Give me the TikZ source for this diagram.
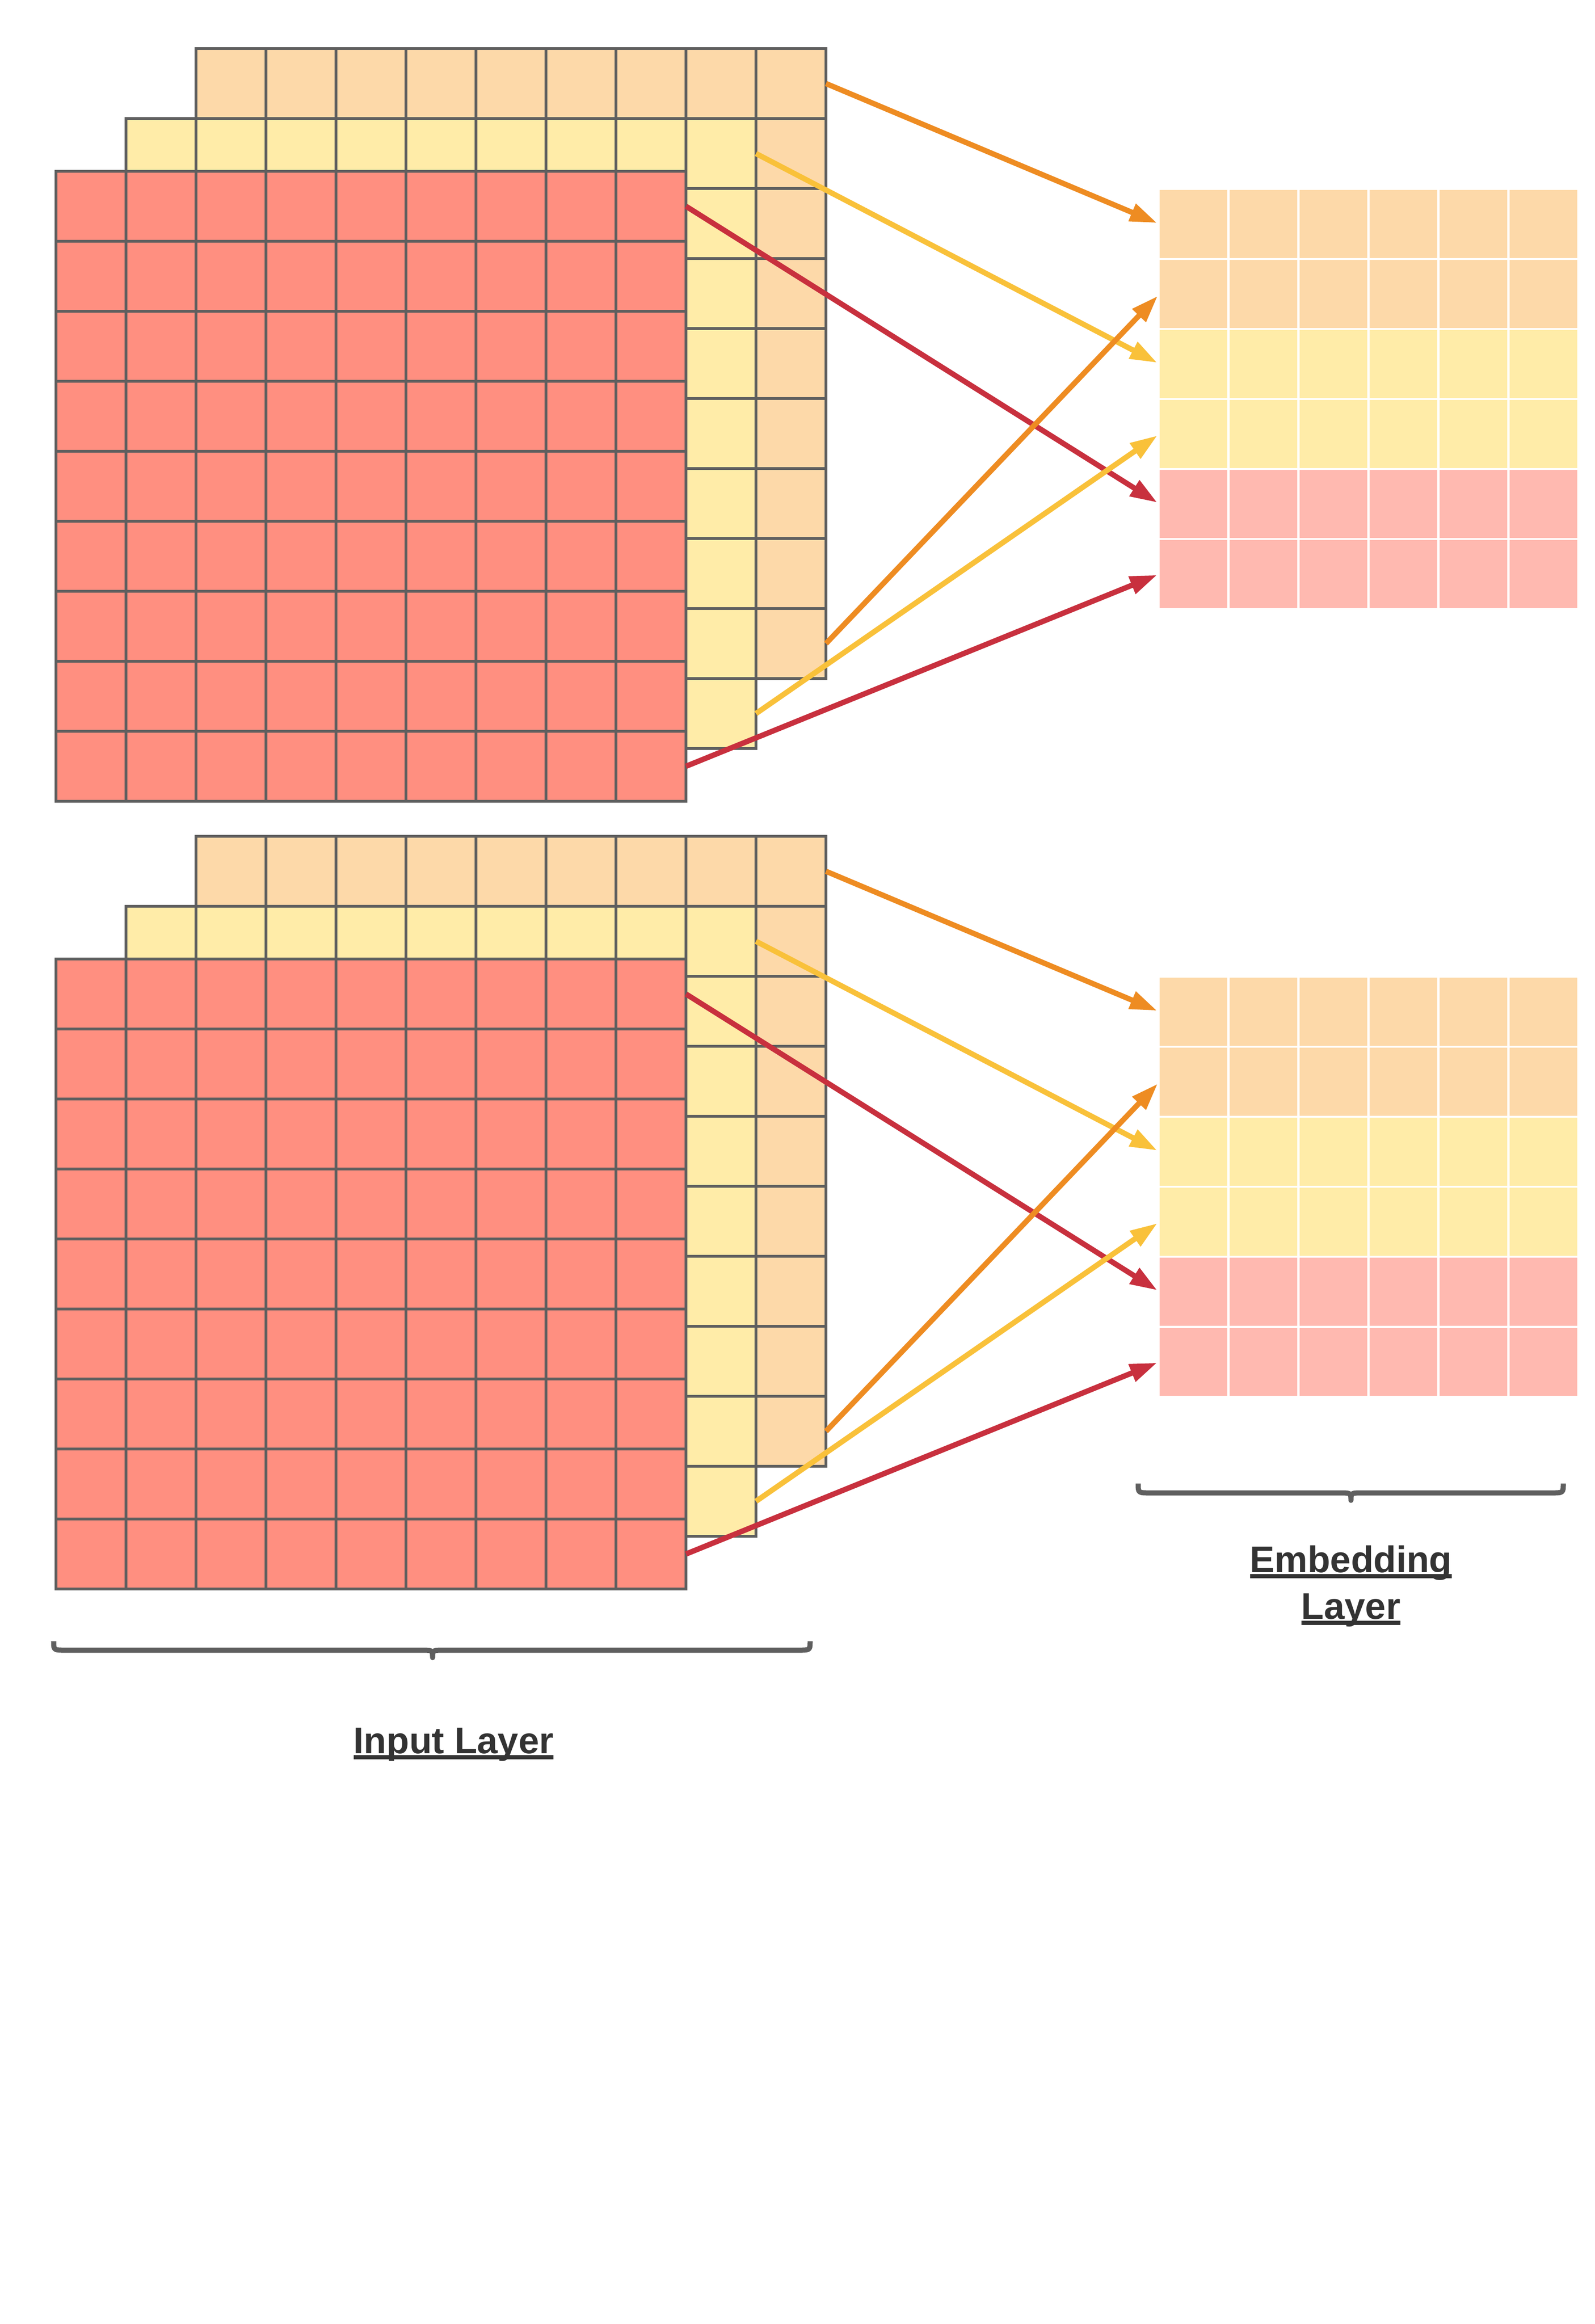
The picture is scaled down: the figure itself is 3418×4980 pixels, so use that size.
\documentclass[tikz,border=0pt]{standalone}
\usepackage{fontspec}
\setmainfont{Liberation Sans}
\usetikzlibrary{arrows.meta}

\definecolor{peach}{HTML}{FDD9A9}
\definecolor{cream}{HTML}{FFECA8}
\definecolor{salmon}{HTML}{FF8F80}
\definecolor{blush}{HTML}{FFB9B0}
\definecolor{gridgray}{HTML}{5F5F5F}
\definecolor{arrorange}{HTML}{EE8C22}
\definecolor{arryellow}{HTML}{F9C13A}
\definecolor{arrred}{HTML}{C8303E}
\definecolor{textgray}{HTML}{333333}

% underlined label text
\newcommand{\undr}[1]{\setbox0\hbox{#1}\rlap{\vrule height -0.04cm depth 0.13cm width \wd0}\box0}

\begin{document}
\begin{tikzpicture}[
  x=0.01cm, y=-0.01cm,
  >={Triangle[length=0.58cm, width=0.38cm]},
  cell/.style    = {rectangle, draw=gridgray, line width=0.055cm,
                    minimum size=1.5cm, inner sep=0pt, outer sep=0pt},
  embcell/.style = {rectangle, minimum size=1.45cm, inner sep=0pt, outer sep=0pt},
  link/.style    = {->, line width=0.115cm, shorten >=0.06cm},
  brace/.style   = {draw=gridgray, line width=0.11cm, line join=round},
  layerlabel/.style = {font=\fontsize{22.6pt}{28.45pt}\selectfont\bfseries,
                       text=textgray, align=center}
]

% Page
\path[use as bounding box, fill=white] (0,0) rectangle (3418,4980);

% Input grids (three stacked channels, two samples)
\foreach \g/\dy in {1/0, 2/1688} {
  \foreach \r in {1,...,9} \foreach \c in {1,...,9}
    \node[cell, fill=peach] (o\g-\r-\c) at ({345+150*\c}, {29+\dy+150*\r}) {};
  \foreach \r in {1,...,9} \foreach \c in {1,...,9}
    \node[cell, fill=cream] (y\g-\r-\c) at ({195+150*\c}, {179+\dy+150*\r}) {};
  \foreach \r in {1,...,9} \foreach \c in {1,...,9}
    \node[cell, fill=salmon] (r\g-\r-\c) at ({45+150*\c}, {292+\dy+150*\r}) {};
}

% Embedding grids
\foreach \g/\dy in {1/0, 2/1688} {
  \foreach \r/\col in {1/peach, 2/peach, 3/cream, 4/cream, 5/blush, 6/blush}
    \foreach \c in {1,...,6}
      \node[embcell, fill=\col] (e\g-\r-\c) at ({2407.5+150*\c}, {330+\dy+150*\r}) {};
}

% Arrows from input to embedding
\foreach \g in {1,2} {
  \draw[link, arrorange] (o\g-1-9.east) -- (e\g-1-1.west);
  \draw[link, arryellow] (y\g-1-9.east) -- (e\g-3-1.west);
  \draw[link, arrred]    (r\g-1-9.east) -- (e\g-5-1.west);
  \draw[link, arrorange] (o\g-9-9.east) -- (e\g-2-1.west);
  \draw[link, arryellow] (y\g-9-9.east) -- (e\g-4-1.west);
  \draw[link, arrred]    (r\g-9-9.east) -- (e\g-6-1.west);
}

% Braces
\draw[brace] (115,3517) .. controls (115,3536) .. (140,3536) -- (902,3536)
  .. controls (927,3536) .. (927,3552) .. controls (927,3536) .. (952,3536)
  -- (1711,3536) .. controls (1736,3536) .. (1736,3517);
\draw[brace] (2439,3179) .. controls (2439,3199) .. (2464,3199) -- (2870,3199)
  .. controls (2895,3199) .. (2895,3215) .. controls (2895,3199) .. (2920,3199)
  -- (3325,3199) .. controls (3350,3199) .. (3350,3179);

% Labels
\node[layerlabel, anchor=base] (inlabel) at (972,3757) {\undr{Input Layer}};
\node[layerlabel, anchor=base] (emblabel) at (2895,3469) {\undr{Embedding}\\\undr{Layer}};

\end{tikzpicture}
\end{document}
